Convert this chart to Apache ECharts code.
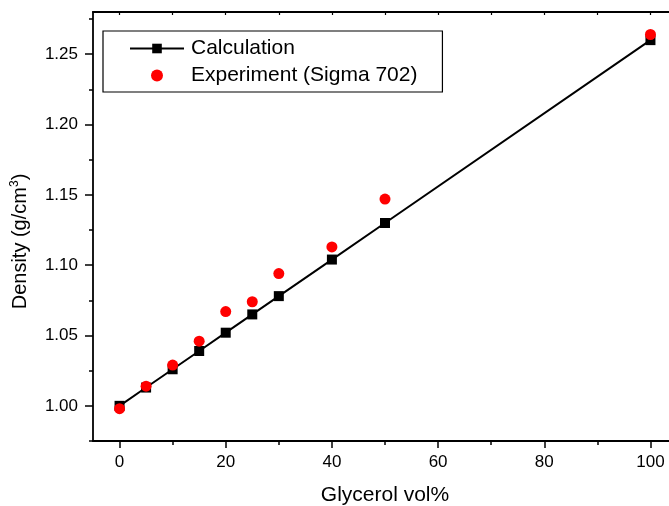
<!DOCTYPE html>
<html>
<head>
<meta charset="utf-8">
<script src="https://cdn.jsdelivr.net/npm/echarts@6/dist/echarts.min.js"></script>
<style>
  html, body { margin: 0; padding: 0; background: #fff; }
  #main { width: 669px; height: 506px; }
</style>
</head>
<body>
<div id="main"></div>
<script>
// data
const glycerol = [0, 5, 10, 15, 20, 25, 30, 40, 50, 100];
const calcDensity = [1.000, 1.013, 1.026, 1.039, 1.052, 1.065, 1.078, 1.104, 1.130, 1.260];
const expDensity = [0.998, 1.014, 1.029, 1.046, 1.067, 1.074, 1.094, 1.113, 1.147, 1.264];

const xMajorTicks = [0, 20, 40, 60, 80, 100];
const xMinorTicks = [10, 30, 50, 70, 90];
const xTopTicks = [0, 10, 20, 30, 40, 50, 60, 70, 80, 90, 100];
const yMajorTicks = [1.00, 1.05, 1.10, 1.15, 1.20, 1.25];
const yMinorTicks = [0.975, 1.025, 1.075, 1.125, 1.175, 1.225, 1.275];

const FONT = 'Liberation Sans, Arial, sans-serif';
const xMin = -5, xMax = 105, yMin = 0.975, yMax = 1.28;

const chart = echarts.init(document.getElementById('main'), null, { renderer: 'canvas' });

// plot frame runs past the right edge of the picture (cropped in the original)
const gridBox = { left: 93, top: 12, width: 584, height: 429, outerBoundsMode: 'none', containLabel: false };

chart.setOption({
  animation: false,
  backgroundColor: '#fff',
  grid: [
    Object.assign({}, gridBox),
    Object.assign({}, gridBox)
  ],
  legend: {
    orient: 'vertical',
    left: 103,
    top: 31,
    itemWidth: 54,
    itemHeight: 12,
    itemGap: 6,
    padding: [7, 25, 6, 26],
    borderColor: '#000',
    borderWidth: 1.2,
    textStyle: { fontFamily: FONT, fontSize: 21, color: '#000', padding: [0, 0, 0, 2] },
    data: ['Calculation', 'Experiment (Sigma 702)']
  },
  xAxis: [
    {
      type: 'value', gridIndex: 0, position: 'bottom',
      min: xMin, max: xMax,
      name: 'Glycerol vol%', nameLocation: 'middle', nameGap: 44,
      nameTextStyle: { fontFamily: FONT, fontSize: 21, color: '#000' },
      axisLine: { show: true, onZero: false, lineStyle: { color: '#000', width: 1.8 } },
      axisTick: { show: true, length: 7, customValues: xMajorTicks, lineStyle: { color: '#000', width: 1.5 } },
      axisLabel: { customValues: xMajorTicks, margin: 13, fontFamily: FONT, fontSize: 17, color: '#000' },
      splitLine: { show: false }
    },
    {
      type: 'value', gridIndex: 0, position: 'top',
      min: xMin, max: xMax,
      axisLine: { show: true, onZero: false, lineStyle: { color: '#000', width: 1.8 } },
      axisTick: { show: true, inside: true, length: 3, customValues: xTopTicks, lineStyle: { color: '#000', width: 1.2 } },
      axisLabel: { show: false },
      splitLine: { show: false }
    },
    {
      type: 'value', gridIndex: 1, position: 'bottom',
      min: xMin, max: xMax,
      axisLine: { show: false, onZero: false },
      axisTick: { show: true, length: 4, customValues: xMinorTicks, lineStyle: { color: '#000', width: 1.5 } },
      axisLabel: { show: false },
      splitLine: { show: false }
    }
  ],
  yAxis: [
    {
      type: 'value', gridIndex: 0, position: 'left',
      min: yMin, max: yMax,
      name: 'Density (g/cm{sup|3})', nameLocation: 'middle', nameGap: 62,
      nameTextStyle: {
        fontFamily: FONT, fontSize: 20, color: '#000', padding: [0, 30, 0, 0],
        rich: { sup: { fontFamily: FONT, fontSize: 12, color: '#000', padding: [0, 0, 10, 0] } }
      },
      axisLine: { show: true, onZero: false, lineStyle: { color: '#000', width: 1.8 } },
      axisTick: { show: true, length: 8, customValues: yMajorTicks, lineStyle: { color: '#000', width: 1.5 } },
      axisLabel: {
        customValues: yMajorTicks, margin: 15, fontFamily: FONT, fontSize: 17, color: '#000',
        formatter: v => v.toFixed(2)
      },
      splitLine: { show: false }
    },
    {
      type: 'value', gridIndex: 1, position: 'left',
      min: yMin, max: yMax,
      axisLine: { show: false, onZero: false },
      axisTick: { show: true, length: 4, customValues: yMinorTicks, lineStyle: { color: '#000', width: 1.5 } },
      axisLabel: { show: false },
      splitLine: { show: false }
    }
  ],
  series: [
    {
      name: 'Calculation',
      type: 'line',
      xAxisIndex: 0, yAxisIndex: 0,
      data: glycerol.map((x, i) => [x, calcDensity[i]]),
      symbol: 'rect',
      symbolSize: 10,
      showAllSymbol: true,
      itemStyle: { color: '#000' },
      lineStyle: { color: '#000', width: 2 },
      z: 2
    },
    {
      name: 'Experiment (Sigma 702)',
      type: 'scatter',
      xAxisIndex: 0, yAxisIndex: 0,
      data: glycerol.map((x, i) => [x, expDensity[i]]),
      symbol: 'circle',
      symbolSize: 11,
      itemStyle: { color: '#ff0000', opacity: 1 },
      z: 3
    }
  ]
});
</script>
</body>
</html>
